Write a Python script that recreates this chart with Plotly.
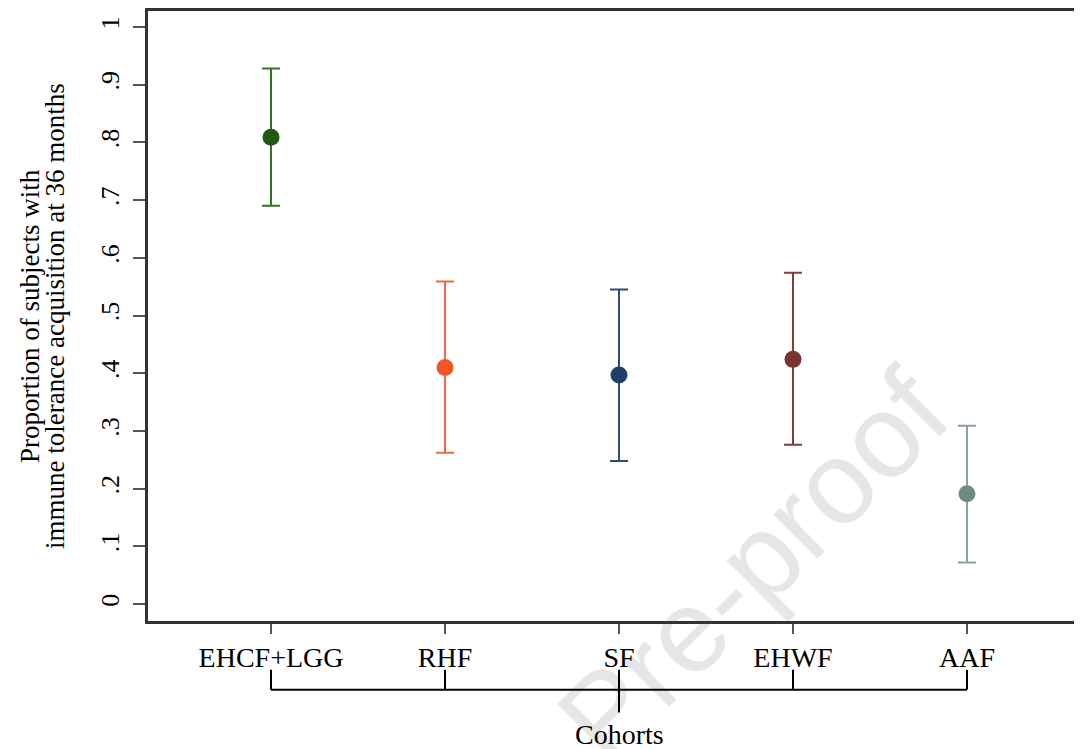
import plotly.graph_objects as go

# ---- data ----
cohorts = ["EHCF+LGG", "RHF", "SF", "EHWF", "AAF"]
proportion = [0.809, 0.410, 0.397, 0.424, 0.191]
ci_lower = [0.690, 0.262, 0.248, 0.276, 0.072]
ci_upper = [0.928, 0.559, 0.545, 0.574, 0.309]
marker_colors = ["#1f5a14", "#ef5526", "#1f406a", "#7a3333", "#728b80"]
bar_colors = ["#347426", "#ee6a40", "#2f4d75", "#843d3d", "#8aa399"]
ytick_vals = [0, 0.1, 0.2, 0.3, 0.4, 0.5, 0.6, 0.7, 0.8, 0.9, 1.0]
ytick_text = ["0", ".1", ".2", ".3", ".4", ".5", ".6", ".7", ".8", ".9", "1"]
positions = list(range(1, len(cohorts) + 1))

SERIF = "Liberation Serif, Times New Roman, serif"

fig = go.Figure()
for i, name in enumerate(cohorts):
    fig.add_trace(go.Scatter(
        x=[positions[i]], y=[proportion[i]],
        mode="markers",
        marker=dict(size=17, color=marker_colors[i]),
        error_y=dict(type="data", symmetric=False,
                     array=[ci_upper[i] - proportion[i]],
                     arrayminus=[proportion[i] - ci_lower[i]],
                     color=bar_colors[i], thickness=2, width=9),
        name=name, showlegend=False,
    ))

# bracket under category labels
shapes = []
stub_top, bar_y, mid_bottom = -0.0800, -0.1126, -0.1501
shapes.append(dict(type="line", xref="x", yref="paper",
                   x0=positions[0], x1=positions[-1], y0=bar_y, y1=bar_y,
                   line=dict(color="black", width=2)))
mid = len(positions) // 2
for i, p in enumerate(positions):
    shapes.append(dict(type="line", xref="x", yref="paper",
                       x0=p, x1=p, y0=stub_top,
                       y1=mid_bottom if i == mid else bar_y,
                       line=dict(color="black", width=2)))

# watermark
shapes.append(dict(type="rect", xref="paper", yref="paper",
                   x0=0.629, x1=0.649, y0=0.094, y1=0.114,
                   line=dict(width=0), fillcolor="rgba(0,0,0,0)",
                   layer="below",
                   label=dict(text="Pre-proof", textangle=-45,
                              textposition="middle center",
                              font=dict(family="Liberation Sans, Arial, sans-serif",
                                        size=118, color="#e6e6e6"))))

annotations = [
    dict(text="Proportion of subjects with", xref="paper", yref="paper",
         x=0, y=0.5, xanchor="center", yanchor="middle", xshift=-118,
         textangle=-90, showarrow=False,
         font=dict(family=SERIF, size=27, color="black")),
    dict(text="immune tolerance acquisition at 36 months", xref="paper", yref="paper",
         x=0, y=0.5, xanchor="center", yanchor="middle", xshift=-93,
         textangle=-90, showarrow=False,
         font=dict(family=SERIF, size=27, color="black")),
    dict(text="Cohorts", xref="x", yref="paper",
         x=positions[mid], y=-0.186, xanchor="center", yanchor="middle",
         showarrow=False, font=dict(family=SERIF, size=28, color="black")),
]

# page body has an 8px margin: size the figure so the plot lands where the reference has it
fig.update_layout(
    width=1074, height=741,
    margin=dict(l=140, r=0, t=1, b=128),
    paper_bgcolor="white", plot_bgcolor="white",
    shapes=shapes, annotations=annotations,
    font=dict(family=SERIF, color="black"),
)
fig.update_xaxes(
    range=[0.293, 5.661], tickvals=positions, ticktext=cohorts,
    showline=True, linecolor="#333333", linewidth=2.5, mirror=True,
    ticks="outside", ticklen=10, tickwidth=1.5, tickcolor="#555555",
    showgrid=False, zeroline=False,
    tickfont=dict(family=SERIF, size=28, color="black"),
)
fig.update_yaxes(
    range=[-0.0293, 1.0276], tickvals=ytick_vals, ticktext=ytick_text,
    tickangle=-90, ticklabelstandoff=4,
    showline=True, linecolor="#333333", linewidth=2.5, mirror=False,
    ticks="outside", ticklen=12, tickwidth=2, tickcolor="#555555",
    showgrid=False, zeroline=False,
    tickfont=dict(family=SERIF, size=26, color="black"),
)

fig.write_html("out.html")
